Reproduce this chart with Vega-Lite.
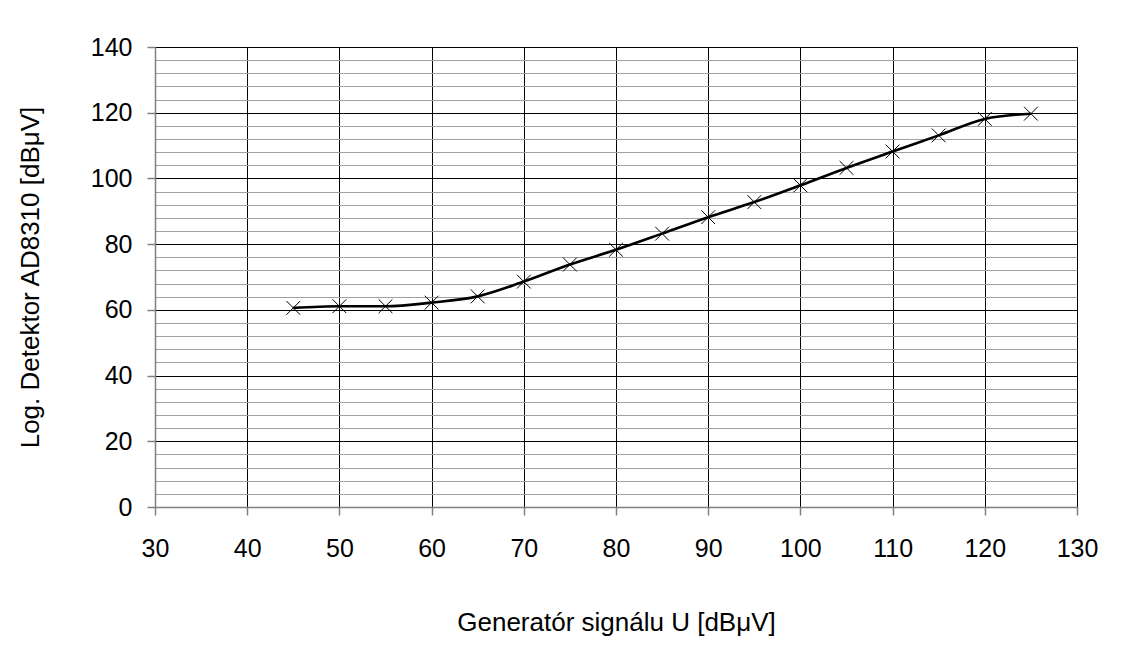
{
  "$schema": "https://vega.github.io/schema/vega-lite/v6.json",
  "width": 922,
  "height": 460,
  "autosize": {"type": "none"},
  "padding": {"left": 155, "top": 47, "right": 48, "bottom": 140},
  "background": "white",
  "config": {
    "font": "Liberation Sans",
    "view": {"stroke": "#808080", "strokeWidth": 1},
    "axis": {
      "labelFont": "Liberation Sans",
      "titleFont": "Liberation Sans",
      "labelFontSize": 25,
      "titleFontSize": 26,
      "labelColor": "black",
      "titleColor": "black",
      "titleFontWeight": "normal",
      "domainColor": "#808080",
      "domainWidth": 1.5,
      "tickColor": "#808080",
      "tickSize": 8,
      "tickWidth": 1.5
    }
  },
  "data": {
    "values": [
      {"u": 45, "d": 60.6},
      {"u": 50, "d": 61.1},
      {"u": 55, "d": 61.1},
      {"u": 60, "d": 62.2},
      {"u": 65, "d": 64.1},
      {"u": 70, "d": 68.6},
      {"u": 75, "d": 73.8},
      {"u": 80, "d": 78.3},
      {"u": 85, "d": 83.2},
      {"u": 90, "d": 88.2},
      {"u": 95, "d": 92.8},
      {"u": 100, "d": 97.9},
      {"u": 105, "d": 103.2},
      {"u": 110, "d": 108.2},
      {"u": 115, "d": 113.1},
      {"u": 120, "d": 118.1},
      {"u": 125, "d": 119.7}
    ]
  },
  "encoding": {
    "x": {
      "field": "u",
      "type": "quantitative",
      "scale": {"domain": [30, 130], "nice": false, "zero": false},
      "axis": {
        "title": "Generatór signálu U [dBμV]",
        "values": [30, 40, 50, 60, 70, 80, 90, 100, 110, 120, 130],
        "grid": true,
        "gridColor": "black",
        "gridWidth": 1,
        "labelPadding": 21,
        "titlePadding": 48,
        "labelFlush": false
      }
    },
    "y": {
      "field": "d",
      "type": "quantitative",
      "scale": {"domain": [0, 140], "nice": false},
      "axis": {
        "title": "Log. Detektor AD8310 [dBμV]",
        "values": [0, 4, 8, 12, 16, 20, 24, 28, 32, 36, 40, 44, 48, 52, 56, 60, 64, 68, 72, 76, 80, 84, 88, 92, 96, 100, 104, 108, 112, 116, 120, 124, 128, 132, 136, 140],
        "grid": true,
        "gridColor": {"condition": {"test": "datum.value % 20 === 0", "value": "black"}, "value": "#a0a0a0"},
        "gridWidth": 1,
        "tickOpacity": {"condition": {"test": "datum.value % 20 === 0", "value": 1}, "value": 0},
        "labelExpr": "datum.value % 20 === 0 ? datum.label : ''",
        "labelPadding": 15,
        "titlePadding": 47,
        "labelFlush": false
      }
    }
  },
  "layer": [
    {
      "mark": {"type": "line", "interpolate": "monotone", "color": "black", "strokeWidth": 2.6}
    },
    {
      "mark": {"type": "point", "shape": "M-1,-1L1,1M-1,1L1,-1", "size": 190, "filled": false, "stroke": "black", "strokeWidth": 1, "opacity": 1}
    }
  ]
}
